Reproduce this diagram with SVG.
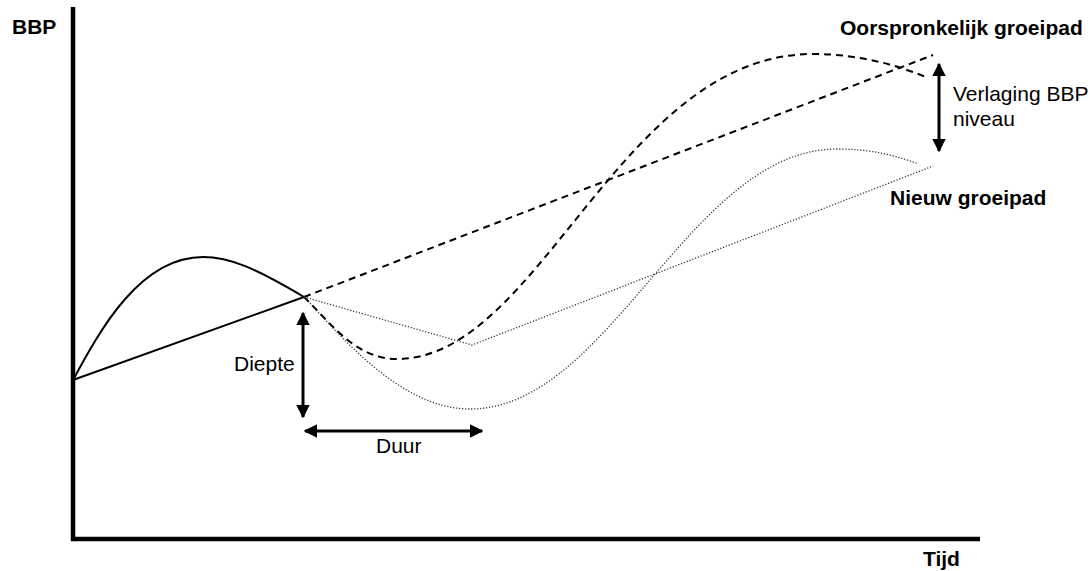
<svg xmlns="http://www.w3.org/2000/svg" width="1090" height="571" viewBox="0 0 1090 571">
<style>
.bold{font-family:"Liberation Sans",Arial,sans-serif;font-weight:bold;font-size:21px;fill:#000}
.reg{font-family:"Liberation Sans",Arial,sans-serif;font-size:21px;fill:#000}
.axis{stroke:#000;stroke-width:4.5;fill:none}
.solid{stroke:#000;stroke-width:2;fill:none}
.dash{stroke:#000;stroke-width:2;fill:none;stroke-dasharray:7 5}
.dot{stroke:#333;stroke-width:1.3;fill:none;stroke-dasharray:1.2 1.8}
.arrow{stroke:#000;stroke-width:3;fill:none}
</style>
<defs>
<marker id="ah" viewBox="0 0 10 10" refX="9" refY="5" markerWidth="4.5" markerHeight="4.5" orient="auto-start-reverse" markerUnits="strokeWidth">
<path d="M0,0 L10,5 L0,10 Z" fill="#000"/>
</marker>
</defs>
<g id="axes">
<line class="axis" x1="73" y1="7" x2="73" y2="541"/>
<line class="axis" x1="71" y1="539" x2="980" y2="539"/>
</g>
<g id="connectors">
<path id="solid-curve" class="solid" d="M73,380 C100,330 140,257 203,257 C230,257 255,268 304,297"/>
<line id="solid-line" class="solid" x1="73" y1="380" x2="304" y2="297"/>
<line id="dashed-line" class="dash" x1="304" y1="297" x2="933" y2="55"/>
<path id="dashed-curve" class="dash" d="M304,297 C330,322 355,359 397,359 C540,359 620,54 813,54 C860,54 900,66 928,78"/>
<polyline id="dotted-line" class="dot" points="304,297 472,345 933,166"/>
<path id="dotted-curve" class="dot" d="M304,297 C340,335 400,409 470,409 C610,409 690,149 837,149 C870,149 895,155 918,164"/>
<line id="arrow-diepte" class="arrow" x1="303" y1="313" x2="303" y2="417" marker-start="url(#ah)" marker-end="url(#ah)"/>
<line id="arrow-duur" class="arrow" x1="305" y1="431" x2="482" y2="431" marker-start="url(#ah)" marker-end="url(#ah)"/>
<line id="arrow-verlaging" class="arrow" x1="939" y1="64" x2="939" y2="151" marker-start="url(#ah)" marker-end="url(#ah)"/>
</g>
<g id="label-bbp"><text class="bold" x="12" y="34">BBP</text></g>
<g id="label-oorspronkelijk"><text class="bold" x="840" y="35">Oorspronkelijk groeipad</text></g>
<g id="label-verlaging"><text class="reg" x="953" y="101">Verlaging BBP</text><text class="reg" x="953" y="126">niveau</text></g>
<g id="label-nieuw"><text class="bold" x="890" y="205">Nieuw groeipad</text></g>
<g id="label-diepte"><text class="reg" x="234" y="371">Diepte</text></g>
<g id="label-duur"><text class="reg" x="376" y="453">Duur</text></g>
<g id="label-tijd"><text class="bold" x="923" y="566">Tijd</text></g>
</svg>
